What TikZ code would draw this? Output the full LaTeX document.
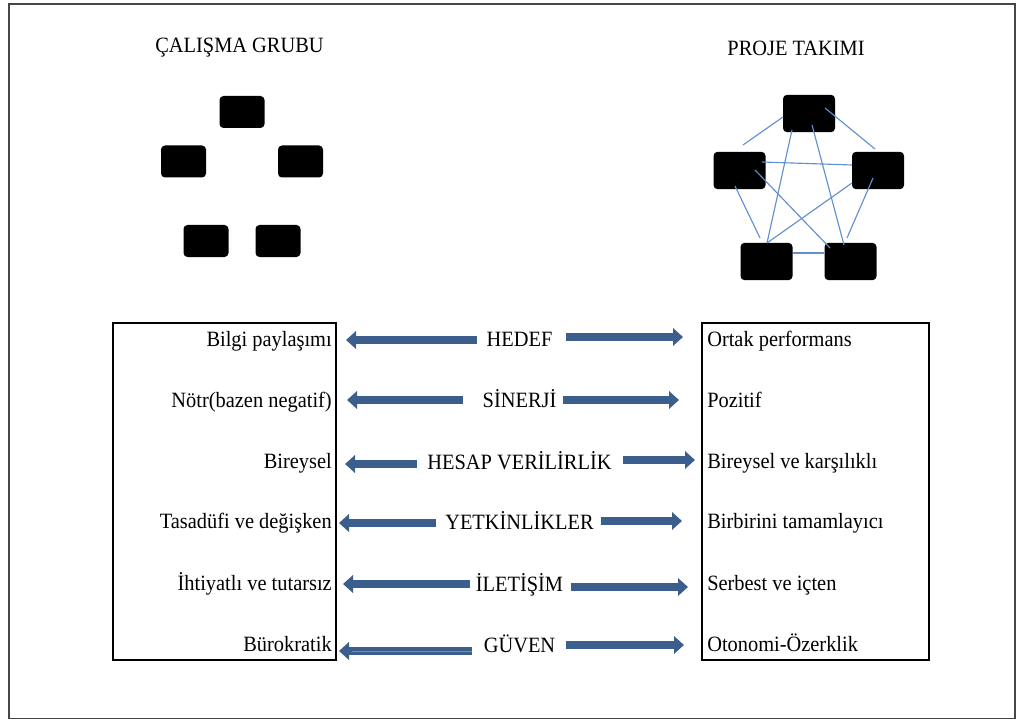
\documentclass[tikz,border=0pt]{standalone}
\usepackage{fontspec}
\usepackage{graphicx}
\setmainfont{Liberation Serif}
\newfontfamily\tnr{Liberation Serif}
\newcommand{\tallt}[1]{\scalebox{1}[1.07]{#1}}
\usetikzlibrary{arrows.meta,calc}
\definecolor{arrblue}{RGB}{59,94,140}
\definecolor{netblue}{RGB}{96,144,206}
\definecolor{framegray}{RGB}{70,70,70}
\begin{document}
\begin{tikzpicture}[x=0.75pt,y=-0.75pt,
  txt/.style={font=\tnr\fontsize{15.3}{18}\selectfont, inner sep=0pt},
  lefttxt/.style={txt, anchor=base east},
  righttxt/.style={txt, anchor=base west},
  midtxt/.style={txt, anchor=base},
  blk/.style={fill=black, rounded corners=3pt, inner sep=0pt},
  smallblk/.style={blk, minimum width=33.75pt, minimum height=24pt},
  bigblk/.style={blk, minimum width=39pt, minimum height=28pt},
  net/.style={draw=netblue, line width=0.85pt},
  arr/.style={draw=arrblue, line width=5.4pt, -{Triangle[length=7.5pt,width=13pt]}},
  panel/.style={draw=black, line width=1.9pt, inner sep=0pt}]
\useasboundingbox (0,0) rectangle (1016,720);
\draw[framegray, line width=1pt] (9,4) rectangle (1015,718.5);

% titles
\node[txt] (title1) at (239.5,48) {\tallt{ÇALIŞMA GRUBU}};
\node[txt] (title2) at (796,48) {\tallt{PROJE TAKIMI}};

% working group boxes
\node[smallblk] (g1) at (242,112) {};
\node[smallblk] (g2) at (183.5,161.5) {};
\node[smallblk] (g3) at (300.5,161.5) {};
\node[smallblk] (g4) at (206,241) {};
\node[smallblk] (g5) at (278,241) {};

% project team boxes
\node[bigblk] (T) at (809,113.5) {};
\node[bigblk] (L) at (739.5,170.5) {};
\node[bigblk] (R) at (878,170.5) {};
\node[bigblk] (BL) at (766.5,261.5) {};
\node[bigblk] (BR) at (850.5,261.5) {};

% network connections
\draw[net] ([shift={(-26,3.5)}]T.center) -- ([shift={(3.5,-25.5)}]L.center);
\draw[net] ([shift={(16,-5.5)}]T.center) -- ([shift={(-3,-21.5)}]R.center);
\draw[net] ([shift={(22.5,-8.5)}]L.center) -- ([shift={(-26,-5.5)}]R.center);
\draw[net] ([shift={(15.5,-0.5)}]L.center) -- ([shift={(-20.5,-13.5)}]BR.center);
\draw[net] ([shift={(-4.5,15.5)}]L.center) -- ([shift={(-6.5,-23.5)}]BL.center);
\draw[net] ([shift={(-17,16.5)}]T.center) -- ([shift={(0.5,-18.5)}]BL.center);
\draw[net] ([shift={(3,11.5)}]T.center) -- ([shift={(-6.5,-16.5)}]BR.center);
\draw[net] ([shift={(-26,12.5)}]R.center) -- ([shift={(0.5,-18.5)}]BL.center);
\draw[net] ([shift={(-5,7.5)}]R.center) -- ([shift={(-3.5,-23.5)}]BR.center);
\draw[net] ([shift={(26.5,-8.5)}]BL.center) -- ([shift={(-26.5,-8.5)}]BR.center);

% panels
\node[panel, minimum width=167.25pt, minimum height=252.75pt] (lp) at (224.5,491.5) {};
\node[panel, minimum width=170.25pt, minimum height=252.75pt] (rp) at (815.5,491.5) {};

% rows of text
\node[lefttxt] (l1) at (332,346.5) {\tallt{Bilgi paylaşımı}};
\node[lefttxt] (l2) at (332,407) {\tallt{Nötr(bazen negatif)}};
\node[lefttxt] (l3) at (332,468) {\tallt{Bireysel}};
\node[lefttxt] (l4) at (332,528) {\tallt{Tasadüfi ve değişken}};
\node[lefttxt] (l5) at (332,590) {\tallt{İhtiyatlı ve tutarsız}};
\node[lefttxt] (l6) at (332,651) {\tallt{Bürokratik}};

\node[midtxt] (c1) at (519.5,346.7) {\tallt{HEDEF}};
\node[midtxt] (c2) at (519.5,407.5) {\tallt{SİNERJİ}};
\node[midtxt] (c3) at (519.5,469) {\tallt{HESAP VERİLİRLİK}};
\node[midtxt] (c4) at (519.5,529) {\tallt{YETKİNLİKLER}};
\node[midtxt] (c5) at (519.5,591) {\tallt{İLETİŞİM}};
\node[midtxt] (c6) at (519.5,652) {\tallt{GÜVEN}};

\node[righttxt] (r1) at (707,346.5) {\tallt{Ortak performans}};
\node[righttxt] (r2) at (707,407) {\tallt{Pozitif}};
\node[righttxt] (r3) at (707,468) {\tallt{Bireysel ve karşılıklı}};
\node[righttxt] (r4) at (707,528) {\tallt{Birbirini tamamlayıcı}};
\node[righttxt] (r5) at (707,590) {\tallt{Serbest ve içten}};
\node[righttxt] (r6) at (707,651.5) {\tallt{Otonomi-Özerklik}};

% arrows: row / left tail / left tip / left y / right tail / right tip / right y
\foreach \i/\lt/\lh/\ly/\rt/\rh/\ry in {
  1/477/346/340/566/683/337,
  2/463/347/400/563/679/400,
  3/417/345/464/623/695/460,
  4/436/339/523/601/682/521,
  5/470/343/584/571/688/587,
  6/472/339/651/566/684/645}{
  \coordinate (lt\i) at (\lt,\ly);
  \coordinate (lh\i) at (\lh,\ly);
  \coordinate (rt\i) at (\rt,\ry);
  \coordinate (rh\i) at (\rh,\ry);
  \draw[arr] (lt\i) -- (lh\i);
  \draw[arr] (rt\i) -- (rh\i);
}
\coordinate (dl) at (352,651);
\draw[white!30!arrblue, line width=0.7pt] (lt6) -- (dl);
\end{tikzpicture}
\end{document}
